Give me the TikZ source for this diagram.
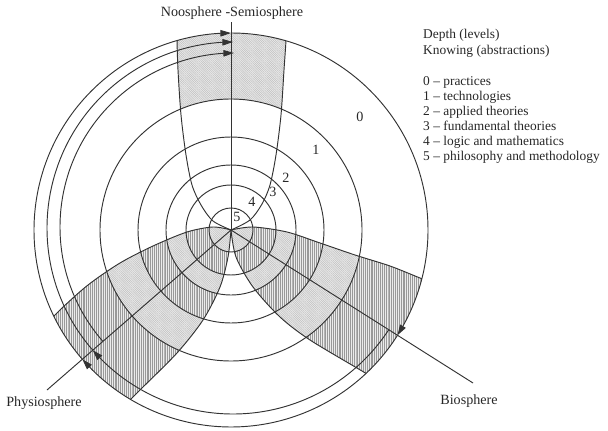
\documentclass[tikz,border=0pt]{standalone}
\usepackage{fontspec}
\setmainfont{Liberation Serif}
\usetikzlibrary{arrows.meta,bending,patterns.meta}
\begin{document}
\begin{tikzpicture}[x=0.85pt,y=0.85pt,
  ln/.style={line width=0.8pt, draw=black!80},
  arr/.style={ln, -{Triangle[length=9pt,width=5.5pt,flex]}},
  lbl/.style={font=\fontsize{12}{14}\selectfont, text=black!85, inner sep=0pt, text height=8.5pt, text depth=2.5pt},
  lgd/.style={lbl, font=\fontsize{11.4}{13}\selectfont, anchor=west},
  vstripe/.style={pattern={Lines[angle=90,distance=1.6pt,line width=0.45pt]}, pattern color=black!40},
  dstripe/.style={pattern={Lines[angle=135,distance=1.3pt,line width=0.3pt]}, pattern color=black!28},
]
\useasboundingbox (0,0) rectangle (608,-431);
\coordinate (c) at (231,-230);
\coordinate (c2) at (233,-228);
\coordinate (c3) at (234,-227);

% ---------- shaded petals ----------
\begin{scope}
\clip (c) circle[radius=197];
% Noosphere petal: only the outer ring shaded
\begin{scope}
\clip plot[smooth] coordinates {(231,-230) (213,-221) (201,-205) (192,-185) (186,-155) (181,-115) (178,-70) (177,-40) (177,-25)}
  -- plot[smooth] coordinates {(286,-25) (286,-40) (284,-70) (281,-115) (276,-155) (270,-185) (262,-204) (250,-220) (231,-230)} -- cycle;
\fill[black!9, even odd rule] (c) circle[radius=197] (c) circle[radius=131];
\path[dstripe, even odd rule] (c) circle[radius=197] (c) circle[radius=131];
\end{scope}
% Physiosphere petal
\begin{scope}
\clip plot[smooth] coordinates {(231,-230) (213,-227) (187,-232) (153,-246) (120,-263) (88,-285) (60,-310) (38,-333)}
  -- plot[smooth] coordinates {(122,-408) (140,-390) (177,-353) (203,-320) (220,-287) (228,-257) (231,-230)} -- cycle;
\fill[black!9] (c) circle[radius=197];
\fill[black!8, even odd rule] (c) circle[radius=197] (c) circle[radius=131];
\path[vstripe, even odd rule] (c) circle[radius=197] (c) circle[radius=131];
\path[dstripe, even odd rule] (c) circle[radius=131] (c) circle[radius=93];
\fill[black!8, even odd rule] (c) circle[radius=93] (c) circle[radius=65];
\path[vstripe, even odd rule] (c) circle[radius=93] (c) circle[radius=65];
\path[dstripe, even odd rule] (c) circle[radius=65] (c) circle[radius=45];
\fill[black!8, even odd rule] (c) circle[radius=45] (c) circle[radius=22];
\path[vstripe, even odd rule] (c) circle[radius=45] (c) circle[radius=22];
\path[dstripe] (c) circle[radius=22];
\end{scope}
% Biosphere petal
\begin{scope}
\clip plot[smooth] coordinates {(231,-230) (253,-227) (287,-232) (320,-243) (355,-255) (390,-266) (420,-278) (445,-288)}
  -- plot[smooth] coordinates {(385,-385) (362,-371) (310,-340) (280,-317) (253,-287) (236,-257) (231,-230)} -- cycle;
\fill[black!9] (c) circle[radius=197];
\fill[black!8, even odd rule] (c) circle[radius=197] (c) circle[radius=131];
\path[vstripe, even odd rule] (c) circle[radius=197] (c) circle[radius=131];
\path[dstripe, even odd rule] (c) circle[radius=131] (c) circle[radius=93];
\fill[black!8, even odd rule] (c) circle[radius=93] (c) circle[radius=65];
\path[vstripe, even odd rule] (c) circle[radius=93] (c) circle[radius=65];
\path[dstripe, even odd rule] (c) circle[radius=65] (c) circle[radius=45];
\fill[black!8, even odd rule] (c) circle[radius=45] (c) circle[radius=22];
\path[vstripe, even odd rule] (c) circle[radius=45] (c) circle[radius=22];
\path[dstripe] (c) circle[radius=22];
\end{scope}
% petal boundaries
\draw[ln] plot[smooth] coordinates {(231,-230) (213,-221) (201,-205) (192,-185) (186,-155) (181,-115) (178,-70) (177,-40) (177,-25)};
\draw[ln] plot[smooth] coordinates {(286,-25) (286,-40) (284,-70) (281,-115) (276,-155) (270,-185) (262,-204) (250,-220) (231,-230)};
\draw[ln] plot[smooth] coordinates {(231,-230) (213,-227) (187,-232) (153,-246) (120,-263) (88,-285) (60,-310) (38,-333)};
\draw[ln] plot[smooth] coordinates {(122,-408) (140,-390) (177,-353) (203,-320) (220,-287) (228,-257) (231,-230)};
\draw[ln] plot[smooth] coordinates {(231,-230) (253,-227) (287,-232) (320,-243) (355,-255) (390,-266) (420,-278) (445,-288)};
\draw[ln] plot[smooth] coordinates {(385,-385) (362,-371) (310,-340) (280,-317) (253,-287) (236,-257) (231,-230)};
\end{scope}

% ---------- concentric level circles ----------
\foreach \r in {22,45,65,93,131}
  \draw[ln] (c) circle[radius=\r];

% ---------- axes ----------
\coordinate (ntop) at (231,-22);
\coordinate (pend) at (47,-390);
\coordinate (bend) at (473,-383);
\draw[ln] (c) -- (ntop);
\draw[ln] (c) -- (pend);
\draw[ln] (c) -- (bend);

% ---------- cycle arcs with arrows ----------
\draw[arr] ([shift={(90:197)}]c) arc[start angle=90, end angle=-32.3, radius=197];
\draw[arr] ([shift={(-32.3:197)}]c) arc[start angle=-32.3, end angle=-139, radius=197];
\draw[arr] ([shift={(-139:197)}]c) arc[start angle=-139, end angle=-270, radius=197];
\draw[arr] ([shift={(-33:186)}]c2) arc[start angle=-33, end angle=-139, radius=186];
\draw[arr] ([shift={(-139:186)}]c2) arc[start angle=-139, end angle=-270, radius=186];
\draw[arr] ([shift={(-139:174)}]c3) arc[start angle=-139, end angle=-270, radius=174];

% ---------- labels ----------
\node[lbl] (noolbl) at (232,-13) {Noosphere -Semiosphere};
\node[lbl] (physlbl) at (44,-403) {Physiosphere};
\node[lbl] (biolbl) at (469,-401) {Biosphere};

\node[lbl] (n0) at (360,-118) {0};
\node[lbl] (n1) at (316,-151) {1};
\node[lbl] (n2) at (286,-179) {2};
\node[lbl] (n3) at (273,-193) {3};
\node[lbl] (n4) at (252,-203) {4};
\node[lbl] (n5) at (237,-218) {5};

\node[lgd] (lg1) at (423,-35) {Depth (levels)};
\node[lgd] (lg2) at (423,-51) {Knowing (abstractions)};
\node[lgd] (lg3) at (423,-82) {0 \textendash{} practices};
\node[lgd] (lg4) at (423,-97) {1 \textendash{} technologies};
\node[lgd] (lg5) at (423,-112) {2 \textendash{} applied theories};
\node[lgd] (lg6) at (423,-127) {3 \textendash{} fundamental theories};
\node[lgd] (lg7) at (423,-142) {4 \textendash{} logic and mathematics};
\node[lgd] (lg8) at (423,-157) {5 \textendash{} philosophy and methodology};
\end{tikzpicture}
\end{document}
